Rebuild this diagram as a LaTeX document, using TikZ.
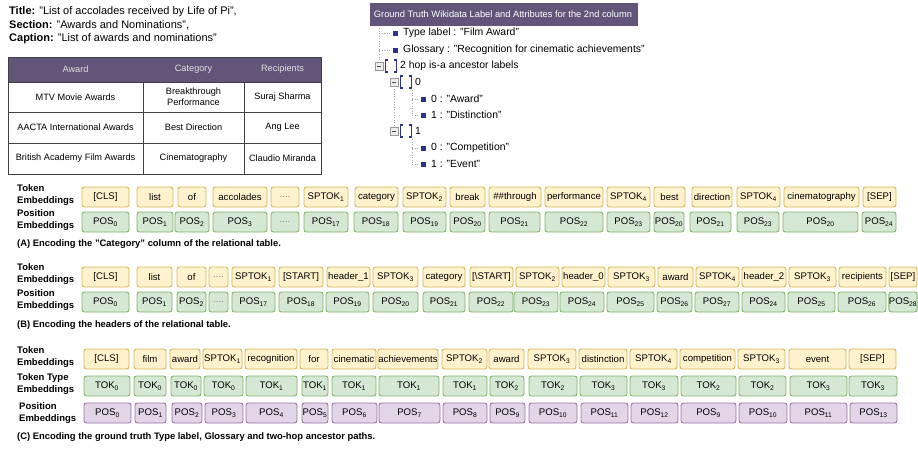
\documentclass[tikz,border=0pt]{standalone}
\usepackage{fontspec}
\setmainfont{Liberation Sans}
\newcommand\sbs[1]{\textsubscript{#1}}
\definecolor{yfill}{HTML}{FFF2CC}
\definecolor{ydraw}{HTML}{D6B656}
\definecolor{gfill}{HTML}{D5E8D4}
\definecolor{gdraw}{HTML}{82B366}
\definecolor{pfill}{HTML}{E1D5E7}
\definecolor{pdraw}{HTML}{9673A6}
\definecolor{hdr}{HTML}{63557A}
\definecolor{navy}{HTML}{2A348C}
\definecolor{tline}{HTML}{404040}
\begin{document}
\begin{tikzpicture}[x=1pt,y=-1pt,
  box/.style={rounded corners=2.5pt, line width=0.9pt, inner sep=0pt, minimum height=20pt, font=\fontsize{9.6}{11}\selectfont},
  ybox/.style={box, fill=yfill, draw=ydraw},
  gbox/.style={box, fill=gfill, draw=gdraw},
  pbox/.style={box, fill=pfill, draw=pdraw},
  rowlbl/.style={anchor=west, align=left, inner sep=0pt, font=\bfseries\fontsize{9.5}{12}\selectfont},
  capt/.style={anchor=west, inner sep=0pt, font=\bfseries\fontsize{9.4}{11}\selectfont},
  ttl/.style={anchor=west, inner sep=0pt, font=\fontsize{11}{13}\selectfont},
  cell/.style={inner sep=0pt, align=center, font=\fontsize{9.2}{11}\selectfont},
  treetxt/.style={anchor=west, inner sep=0pt, font=\fontsize{10.4}{12}\selectfont},
  bul/.style={fill=navy},
  dots/.style={gray!70, dotted, line width=0.6pt},
  brk/.style={navy, line width=1.6pt},
  expd/.style={draw=gray!80, fill=gray!15, line width=0.5pt}]
\useasboundingbox (0,0) rectangle (918,448);
\clip (0,0) rectangle (918,448);

% ---------- title ----------
\node[ttl] (t1) at (9,12) {\textbf{Title:} "List of accolades received by Life of Pi",};
\node[ttl] (t2) at (9,25.5) {\textbf{Section:} "Awards and Nominations",};
\node[ttl] (t3) at (9,39) {\textbf{Caption:} "List of awards and nominations"};

% ---------- table ----------
\fill[hdr] (8,57) rectangle (321,82);
\draw[tline, line width=0.8pt] (8,57) rectangle (321,174);
\draw[tline, line width=0.8pt] (8,82) -- (321,82) (8,112) -- (321,112) (8,143) -- (321,143)
  (143,82) -- (143,174) (244,82) -- (244,174);
\node[cell, text=white!88!black] (h1) at (75.5,69.5) {Award};
\node[cell, text=white!88!black] (h2) at (193.5,69.5) {Category};
\node[cell, text=white!88!black] (h3) at (282.5,69.5) {Recipients};
\node[cell] (c11) at (75.5,97) {MTV Movie Awards};
\node[cell] (c12) at (193.5,97) {Breakthrough\\Performance};
\node[cell] (c13) at (282.5,97) {Suraj Sharma};
\node[cell] (c21) at (75.5,127.5) {AACTA International Awards};
\node[cell] (c22) at (193.5,127.5) {Best Direction};
\node[cell] (c23) at (282.5,127.5) {Ang Lee};
\node[cell] (c31) at (75.5,158.5) {British Academy Film Awards};
\node[cell] (c32) at (193.5,158.5) {Cinematography};
\node[cell] (c33) at (282.5,158.5) {Claudio Miranda};

% ---------- tree ----------
\fill[hdr] (370,3) rectangle (638,26);
\node[inner sep=0pt, text=white, font=\fontsize{9.3}{11}\selectfont] (gt) at (503,14.5) {Ground Truth Wikidata Label and Attributes for the 2nd column};
\draw[dots] (379,28) -- (379,62) (379,33) -- (390,33) (379,50) -- (390,50);
\draw[dots] (394,86) -- (394,127);
\draw[dots] (412,90) -- (412,115) (412,99) -- (419,99) (412,115) -- (419,115);
\draw[dots] (412,139) -- (412,164) (412,148) -- (419,148) (412,164) -- (419,164);
\fill[bul] (392.5,30.5) rectangle (397.5,35.5);
\node[treetxt] (n1) at (403,33) {Type label : "Film Award"};
\fill[bul] (392.5,47.5) rectangle (397.5,52.5);
\node[treetxt] (n2) at (403,50) {Glossary : "Recognition for cinematic achievements"};
% root
\draw[expd] (375,62) rectangle (383,70); \draw[gray!60!black, line width=0.6pt] (377,66) -- (381,66);
\draw[brk] (388,60) -- (385.5,60) -- (385.5,72) -- (388,72);
\draw[brk] (394,60) -- (396.5,60) -- (396.5,72) -- (394,72);
\node[treetxt] (n3) at (400,66) {2 hop is-a ancestor labels};
% level 0
\draw[expd] (390,78) rectangle (398,86); \draw[gray!60!black, line width=0.6pt] (392,82) -- (396,82);
\draw[brk] (403,76) -- (400.5,76) -- (400.5,88) -- (403,88);
\draw[brk] (409,76) -- (411.5,76) -- (411.5,88) -- (409,88);
\node[treetxt] (n4) at (415,82) {0};
\fill[bul] (420.5,96.5) rectangle (425.5,101.5);
\node[treetxt] (n5) at (431,99) {0 : "Award"};
\fill[bul] (420.5,112.5) rectangle (425.5,117.5);
\node[treetxt] (n6) at (431,115) {1 : "Distinction"};
% level 1
\draw[expd] (390,127) rectangle (398,135); \draw[gray!60!black, line width=0.6pt] (392,131) -- (396,131);
\draw[brk] (403,125) -- (400.5,125) -- (400.5,137) -- (403,137);
\draw[brk] (409,125) -- (411.5,125) -- (411.5,137) -- (409,137);
\node[treetxt] (n7) at (415,131) {1};
\fill[bul] (420.5,145.5) rectangle (425.5,150.5);
\node[treetxt] (n8) at (431,148) {0 : "Competition"};
\fill[bul] (420.5,161.5) rectangle (425.5,166.5);
\node[treetxt] (n9) at (431,164) {1 : "Event"};

% ---------- row A ----------
\node[rowlbl] (la1) at (17,195) {Token\\Embeddings};
\node[rowlbl] (la2) at (17,220) {Position\\Embeddings};
\foreach \a/\b/\lbl [count=\i] in {82/129/{[CLS]}, 137/173/list, 178/206/of, 213/267/accolades, 271/299/{\textcolor{gray}{....}}, 304/348/SPTOK\sbs{1}, 355/398/category, 403/446/SPTOK\sbs{2}, 450/485/break, 489/541/\#\#through, 545/603/performance, 607/650/SPTOK\sbs{4}, 654/685/best, 692/732/direction, 737/780/SPTOK\sbs{4}, 784/859/cinematography, 863/896/{[SEP]}}
  \node[ybox, minimum width={(\b-\a)*1pt}] (ta\i) at ({(\a+\b)/2},197) {\lbl};
\foreach \a/\b/\lbl [count=\i] in {82/129/POS\sbs{0}, 137/173/POS\sbs{1}, 175/209/POS\sbs{2}, 213/267/POS\sbs{3}, 271/299/{\textcolor{gray}{....}}, 304/348/POS\sbs{17}, 354/398/POS\sbs{18}, 403/446/POS\sbs{19}, 450/485/POS\sbs{20}, 489/540/POS\sbs{21}, 545/603/POS\sbs{22}, 607/650/POS\sbs{23}, 654/684/POS\sbs{20}, 690/731/POS\sbs{21}, 737/779/POS\sbs{23}, 783/858/POS\sbs{20}, 862/896/POS\sbs{24}}
  \node[gbox, minimum width={(\b-\a)*1pt}] (pa\i) at ({(\a+\b)/2},222) {\lbl};
\node[capt] (ca) at (17,244) {(A) Encoding the "Category" column of the relational table.};

% ---------- row B ----------
\node[rowlbl] (lb1) at (17,274) {Token\\Embeddings};
\node[rowlbl] (lb2) at (17,300) {Position\\Embeddings};
\foreach \a/\b/\lbl [count=\i] in {82/129/{[CLS]}, 137/172/list, 177/206/of, 209/228/{\textcolor{gray}{....}}, 232/275/SPTOK\sbs{1}, 279/323/{[START]}, 327/370/header\_1, 373/418/SPTOK\sbs{3}, 423/465/category, 470/513/{[\textbackslash START]}, 516/559/SPTOK\sbs{2}, 562/605/header\_0, 608/655/SPTOK\sbs{3}, 658/693/award, 696/739/SPTOK\sbs{4}, 742/786/header\_2, 789/836/SPTOK\sbs{3}, 839/886/recipients, 889/917/{[SEP]}}
  \node[ybox, minimum width={(\b-\a)*1pt}] (tb\i) at ({(\a+\b)/2},277) {\lbl};
\foreach \a/\b/\lbl [count=\i] in {82/129/POS\sbs{0}, 137/172/POS\sbs{1}, 177/206/POS\sbs{2}, 209/228/{\textcolor{gray}{....}}, 232/275/POS\sbs{17}, 279/323/POS\sbs{18}, 326/369/POS\sbs{19}, 373/418/POS\sbs{20}, 423/465/POS\sbs{21}, 469/513/POS\sbs{22}, 514/558/POS\sbs{23}, 560/604/POS\sbs{24}, 607/654/POS\sbs{25}, 657/692/POS\sbs{26}, 695/739/POS\sbs{27}, 742/785/POS\sbs{24}, 788/835/POS\sbs{25}, 838/886/POS\sbs{26}, 889/917/POS\sbs{28}}
  \node[gbox, minimum width={(\b-\a)*1pt}] (pb\i) at ({(\a+\b)/2},302) {\lbl};
\node[capt] (cb) at (17,325) {(B) Encoding the headers of the relational table.};

% ---------- row C ----------
\node[rowlbl] (lc1) at (17,357.5) {Token\\Embeddings};
\node[rowlbl] (lc2) at (17,384) {Token Type\\Embeddings};
\node[rowlbl] (lc3) at (19,413.5) {Position\\Embeddings};
\foreach \a/\b/\lbl [count=\i] in {84/129/{[CLS]}, 134/166/film, 170/200/award, 203/242/SPTOK\sbs{1}, 245/297/recognition, 300/328/for, 332/376/cinematic, 378/438/achievements, 442/487/SPTOK\sbs{2}, 489/524/award, 528/576/SPTOK\sbs{3}, 579/627/distinction, 630/677/SPTOK\sbs{4}, 680/735/competition, 738/785/SPTOK\sbs{3}, 789/846/event, 849/896/{[SEP]}}
  \node[ybox, minimum width={(\b-\a)*1pt}] (tc\i) at ({(\a+\b)/2},359) {\lbl};
\foreach \a/\b/\lbl [count=\i] in {84/130/TOK\sbs{0}, 134/166/TOK\sbs{0}, 171/201/TOK\sbs{0}, 204/243/TOK\sbs{0}, 246/297/TOK\sbs{1}, 302/328/TOK\sbs{1}, 332/376/TOK\sbs{1}, 379/439/TOK\sbs{1}, 443/487/TOK\sbs{1}, 490/524/TOK\sbs{2}, 529/577/TOK\sbs{2}, 580/627/TOK\sbs{3}, 630/678/TOK\sbs{3}, 681/736/TOK\sbs{2}, 739/786/TOK\sbs{2}, 790/847/TOK\sbs{3}, 849/897/TOK\sbs{3}}
  \node[gbox, minimum width={(\b-\a)*1pt}] (kc\i) at ({(\a+\b)/2},386) {\lbl};
\foreach \a/\b/\lbl [count=\i] in {84/131/POS\sbs{0}, 135/166/POS\sbs{1}, 172/202/POS\sbs{2}, 205/243/POS\sbs{3}, 246/297/POS\sbs{4}, 302/328/POS\sbs{5}, 332/377/POS\sbs{6}, 379/440/POS\sbs{7}, 443/487/POS\sbs{8}, 490/525/POS\sbs{9}, 529/577/POS\sbs{10}, 581/628/POS\sbs{11}, 631/678/POS\sbs{12}, 681/736/POS\sbs{9}, 739/787/POS\sbs{10}, 790/847/POS\sbs{11}, 850/897/POS\sbs{13}}
  \node[pbox, minimum width={(\b-\a)*1pt}] (qc\i) at ({(\a+\b)/2},413) {\lbl};
\node[capt] (cc) at (17,437) {(C) Encoding the ground truth Type label, Glossary and two-hop ancestor paths.};
\end{tikzpicture}
\end{document}
